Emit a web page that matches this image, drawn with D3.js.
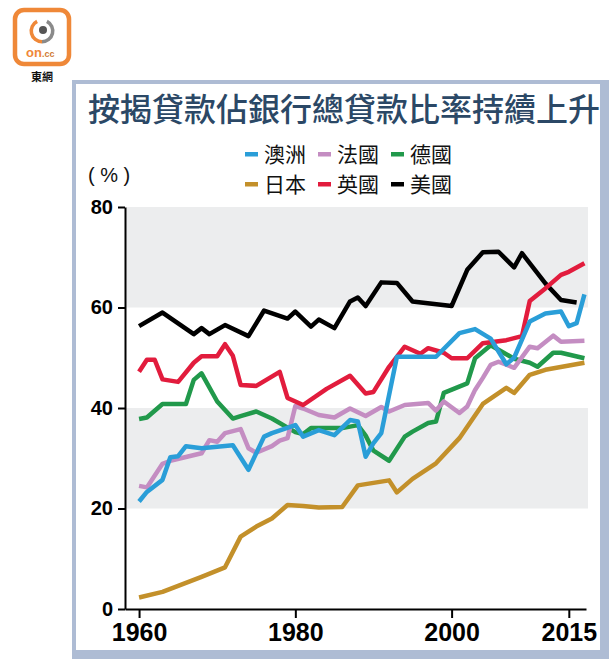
<!DOCTYPE html>
<html>
<head>
<meta charset="utf-8">
<script src="https://cdn.jsdelivr.net/npm/d3@7"></script>
<style>
  body { margin: 0; background: #fff; }
  svg { display: block; }
</style>
</head>
<body>
<div id="wrapper"></div>
<script>
// values (percent of total bank loans)
const auYears = [1960, 1961, 1963, 1964, 1965, 1966, 1968, 1970, 1972, 1974, 1976, 1977, 1980, 1981, 1983, 1985, 1987, 1988, 1989, 1990, 1991, 1993, 1998, 2001, 2003, 2005, 2007, 2008, 2010, 2012, 2014, 2015, 2016, 2017];
const auValues = [21.4, 23.3, 25.7, 30.2, 30.4, 32.4, 32.0, 32.3, 32.6, 27.7, 34.3, 35.0, 36.6, 34.3, 35.6, 34.6, 37.6, 37.3, 30.3, 33.0, 35.0, 50.2, 50.2, 54.9, 55.7, 53.8, 48.7, 50.0, 57.2, 58.8, 59.2, 56.3, 56.9, 62.6];

const frYears = [1960, 1961, 1963, 1964, 1968, 1969, 1970, 1971, 1973, 1974, 1975, 1977, 1978, 1979, 1980, 1981, 1983, 1985, 1987, 1989, 1991, 1992, 1994, 1997, 1998, 1999, 2001, 2002, 2003, 2004, 2005, 2006, 2008, 2010, 2011, 2013, 2014, 2017];
const frValues = [24.5, 24.2, 28.9, 29.5, 31.0, 33.6, 33.3, 35.0, 35.8, 32.0, 31.1, 32.4, 33.5, 34.0, 40.4, 39.9, 38.6, 38.1, 39.9, 38.4, 40.2, 39.3, 40.6, 41.0, 39.5, 41.3, 39.0, 40.3, 43.6, 46.0, 48.6, 49.2, 48.0, 52.2, 51.9, 54.4, 53.2, 53.4];

const deYears = [1960, 1961, 1963, 1966, 1967, 1968, 1970, 1972, 1973, 1975, 1977, 1980, 1981, 1982, 1986, 1988, 1989, 1990, 1992, 1994, 1995, 1997, 1998, 1999, 2002, 2003, 2005, 2008, 2010, 2011, 2013, 2014, 2017];
const deValues = [37.8, 38.1, 40.8, 40.8, 45.6, 46.9, 41.3, 37.9, 38.4, 39.3, 37.9, 35.2, 34.8, 36.0, 36.0, 36.6, 34.5, 31.5, 29.5, 34.3, 35.3, 37.0, 37.3, 43.0, 44.9, 49.9, 52.5, 49.8, 49.0, 48.2, 51.0, 51.0, 49.9];

const jpYears = [1960, 1963, 1965, 1968, 1971, 1973, 1975, 1977, 1979, 1981, 1983, 1986, 1988, 1992, 1993, 1995, 1998, 2001, 2004, 2007, 2008, 2010, 2012, 2017];
const jpValues = [2.3, 3.4, 4.6, 6.4, 8.3, 14.4, 16.4, 18.0, 20.7, 20.5, 20.2, 20.3, 24.6, 25.6, 23.2, 25.9, 29.0, 34.0, 40.8, 44.0, 43.0, 46.6, 47.6, 49.0];

const ukYears = [1960, 1961, 1962, 1963, 1965, 1967, 1968, 1970, 1971, 1972, 1973, 1975, 1978, 1979, 1981, 1984, 1987, 1989, 1990, 1992, 1994, 1996, 1997, 1999, 2000, 2002, 2004, 2007, 2009, 2010, 2012, 2014, 2015, 2017];
const ukValues = [47.2, 49.6, 49.6, 45.7, 45.2, 49.0, 50.3, 50.3, 52.7, 50.4, 44.6, 44.4, 47.2, 42.0, 40.6, 43.8, 46.4, 42.9, 43.2, 48.2, 52.2, 50.8, 51.9, 51.0, 49.9, 49.9, 52.9, 53.5, 54.3, 61.3, 63.8, 66.5, 67.1, 68.8];

const usYears = [1960, 1963, 1967, 1968, 1969, 1971, 1974, 1976, 1979, 1980, 1982, 1983, 1985, 1987, 1988, 1989, 1991, 1993, 1995, 2000, 2002, 2004, 2006, 2008, 2009, 2012, 2014, 2016];
const usValues = [56.3, 59.0, 54.7, 55.9, 54.7, 56.5, 54.3, 59.4, 57.8, 59.2, 56.2, 57.6, 55.9, 61.2, 62.0, 60.3, 65.0, 64.9, 61.2, 60.3, 67.5, 71.0, 71.1, 68.0, 70.8, 64.8, 61.5, 61.0];

const seriesNames = ["澳洲", "法國", "德國", "日本", "英國", "美國"];
const seriesColors = ["#2a9ed8", "#c48dc2", "#21994b", "#c3902a", "#e21c3d", "#000000"];
const xTicks = [1960, 1980, 2000, 2015];
const yTicks = [0, 20, 40, 60, 80];
const bandRanges = [[20, 40], [60, 80]];

const title = "按揭貸款佔銀行總貸款比率持續上升";

function draw() {
    const dimension = {
        width: 609,
        height: 659,
        plotLeft: 125,
        plotRight: 586,
        plotTop: 207,
        plotBottom: 609,
    };

    const svg = d3.select("#wrapper")
        .append("svg")
        .attr("width", dimension.width)
        .attr("height", dimension.height);

    // logo top left
    const logo = svg.append("g");
    logo.append("rect")
        .attr("x", 15).attr("y", 10)
        .attr("width", 54).attr("height", 54)
        .attr("rx", 9)
        .attr("fill", "#fff")
        .attr("stroke", "#ef8838")
        .attr("stroke-width", 4.5);
    logo.append("path")
        .attr("d", d3.arc()({innerRadius: 9, outerRadius: 12.5, startAngle: Math.PI * 0.15, endAngle: Math.PI * 1.0}))
        .attr("transform", "translate(42,31)")
        .attr("fill", "#8a8a8a");
    logo.append("path")
        .attr("d", d3.arc()({innerRadius: 9, outerRadius: 12.5, startAngle: Math.PI * 1.0, endAngle: Math.PI * 1.85}))
        .attr("transform", "translate(42,31)")
        .attr("fill", "#ef8838");
    logo.append("circle")
        .attr("cx", 43).attr("cy", 30).attr("r", 4)
        .attr("fill", "#555");
    logo.append("text")
        .attr("x", 26).attr("y", 57)
        .attr("font-family", "Liberation Sans, Arial, sans-serif")
        .attr("font-weight", "bold")
        .attr("font-size", 13)
        .attr("fill", "#ef8838")
        .text("on")
        .append("tspan")
        .attr("font-size", 9)
        .attr("fill", "#d07a35")
        .text(".cc");
    logo.append("text")
        .attr("x", 42).attr("y", 81)
        .attr("text-anchor", "middle")
        .attr("font-family", "Noto Sans CJK TC, sans-serif")
        .attr("font-weight", "bold")
        .attr("font-size", 11)
        .attr("fill", "#111")
        .text("東網");

    // panel frame
    svg.append("rect")
        .attr("x", 72).attr("y", 80)
        .attr("width", 537).attr("height", 579)
        .attr("fill", "#aebcd4");
    svg.append("rect")
        .attr("x", 76).attr("y", 84)
        .attr("width", 524).attr("height", 566)
        .attr("fill", "#fff");

    svg.append("text")
        .attr("x", 88).attr("y", 121)
        .attr("font-family", "Noto Sans CJK TC, sans-serif")
        .attr("font-weight", 500)
        .attr("font-size", 32)
        .attr("fill", "#2b4866")
        .text(title);

    const xScaler = d3.scaleLinear()
        .domain([1958.2, 2017.2])
        .range([dimension.plotLeft, dimension.plotRight]);

    const yScaler = d3.scaleLinear()
        .domain([0, 80])
        .range([dimension.plotBottom, dimension.plotTop]);

    // grey bands
    svg.append("g")
        .selectAll("rect")
        .data(bandRanges)
        .join("rect")
        .attr("x", dimension.plotLeft + 1)
        .attr("y", d => yScaler(d[1]))
        .attr("width", 588 - dimension.plotLeft - 1)
        .attr("height", d => yScaler(d[0]) - yScaler(d[1]))
        .attr("fill", "#ecedee");

    // (%) label
    svg.append("text")
        .attr("x", 88).attr("y", 182)
        .attr("font-family", "Liberation Sans, Arial, sans-serif")
        .attr("font-size", 20)
        .attr("fill", "#111")
        .text("( % )");

    // legend: two rows of three
    const legend = svg.append("g");
    const legendItems = legend.selectAll("g")
        .data(seriesNames)
        .join("g")
        .attr("transform", (d, i) => `translate(${245 + (i % 3) * 73},${i < 3 ? 154 : 184})`);
    legendItems.append("rect")
        .attr("x", 0).attr("y", -2)
        .attr("width", 13).attr("height", 4.5)
        .attr("fill", (d, i) => seriesColors[i]);
    legendItems.append("text")
        .attr("x", 19).attr("y", 0)
        .attr("dy", "0.36em")
        .attr("font-family", "Noto Sans CJK TC, sans-serif")
        .attr("font-size", 21)
        .attr("fill", "#111")
        .text(d => d);

    // lines
    const series = [
        {years: usYears, values: usValues, color: seriesColors[5]},
        {years: deYears, values: deValues, color: seriesColors[2]},
        {years: frYears, values: frValues, color: seriesColors[1]},
        {years: jpYears, values: jpValues, color: seriesColors[3]},
        {years: ukYears, values: ukValues, color: seriesColors[4]},
        {years: auYears, values: auValues, color: seriesColors[0]},
    ];

    const lineGen = d3.line()
        .x(d => xScaler(d[0]))
        .y(d => yScaler(d[1]));

    svg.append("g")
        .selectAll("path")
        .data(series)
        .join("path")
        .attr("d", s => lineGen(d3.zip(s.years, s.values)))
        .attr("fill", "none")
        .attr("stroke", s => s.color)
        .attr("stroke-width", 4.5)
        .attr("stroke-linejoin", "round");

    // axes
    const yAxisGen = d3.axisLeft(yScaler)
        .tickValues(yTicks)
        .tickSize(7)
        .tickSizeOuter(0)
        .tickPadding(5);
    const yAxis = svg.append("g")
        .attr("transform", `translate(${dimension.plotLeft},0)`)
        .call(yAxisGen);
    yAxis.selectAll("path, line").attr("stroke", "#000").attr("stroke-width", 2);
    yAxis.selectAll("text")
        .attr("font-family", "Liberation Sans, Arial, sans-serif")
        .attr("font-weight", "bold")
        .attr("font-size", 20)
        .attr("fill", "#000");

    const xAxisGen = d3.axisBottom(xScaler)
        .tickValues(xTicks)
        .tickFormat(d3.format("d"))
        .tickSize(9)
        .tickSizeOuter(0)
        .tickPadding(5);
    const xAxis = svg.append("g")
        .attr("transform", `translate(0,${dimension.plotBottom})`)
        .call(xAxisGen);
    xAxis.selectAll("path, line").attr("stroke", "#000").attr("stroke-width", 2);
    xAxis.selectAll("text")
        .attr("font-family", "Liberation Sans Narrow, Liberation Sans, Arial, sans-serif")
        .attr("font-weight", "bold")
        .attr("font-size", 25)
        .attr("fill", "#000");

    return svg;
}
draw();
</script>
</body>
</html>
